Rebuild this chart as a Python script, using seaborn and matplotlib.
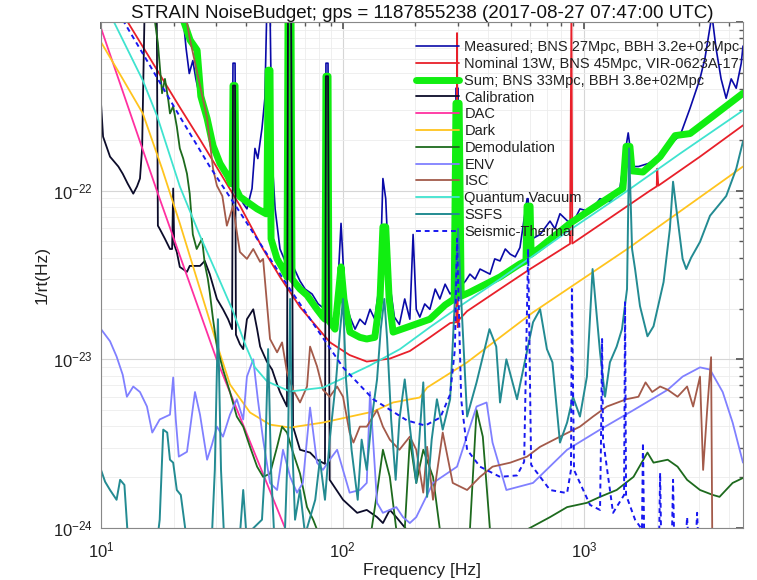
import matplotlib
matplotlib.use("Agg")
import matplotlib.pyplot as plt
import seaborn as sns
from matplotlib.ticker import LogLocator, NullFormatter, FixedLocator, FixedFormatter

sns.set_theme(style="white")
plt.rcParams['font.family'] = ['Liberation Sans', 'DejaVu Sans']
plt.rcParams['mathtext.fontset'] = 'custom'
plt.rcParams['mathtext.rm'] = 'Liberation Sans'
plt.rcParams['mathtext.it'] = 'Liberation Sans:italic'
plt.rcParams['mathtext.bf'] = 'Liberation Sans:bold'

title = "STRAIN NoiseBudget; gps = 1187855238 (2017-08-27 07:47:00 UTC)"
labels = ["Measured; BNS 27Mpc, BBH 3.2e+02Mpc", "Nominal 13W, BNS 45Mpc, VIR-0623A-17",
          "Sum; BNS 33Mpc, BBH 3.8e+02Mpc", "Calibration", "DAC", "Dark", "Demodulation",
          "ENV", "ISC", "Quantum Vacuum", "SSFS", "Seismic-Thermal"]

meas_f = [21.9, 22.5, 23.2, 24.0, 24.7, 25.7, 27.5, 29.1, 31.1, 33.6, 34.9, 35.2, 35.9, 36.2, 38.8, 40.2, 42.2, 43.4, 44.6, 46.4, 47.7, 48.6, 50.1, 51.1, 52.6, 55.1, 57.8, 59.5, 61.2, 61.8, 66.7, 70.0, 74.8, 79.3, 84.6, 85.4, 87.1, 87.9, 91.4, 95.0, 98.6, 102.5, 107.4, 112.7, 118, 124, 130, 136, 143, 147, 151, 156, 164, 172, 181, 190, 196, 202, 209, 219, 230, 242, 253, 266, 279, 292, 295, 301, 304, 314, 323, 337, 354, 371, 408, 427, 449, 472, 495, 519, 543, 581, 587, 598, 610, 658, 723, 758, 795, 875, 917, 962, 1059, 1164, 1280, 1407, 1493, 1524, 1549, 1581, 1680, 1848, 2066, 2383, 2499, 2748, 3020, 3168, 3386, 3520, 3695, 3877, 4068, 4267, 4478, 4553]
meas_v = [1.05e-21, 7.0e-22, 4.95e-22, 5.9e-22, 4.6e-22, 3.53e-22, 2.5e-22, 1.78e-22, 1.39e-22, 1.15e-22, 1.06e-22, 5.7e-22, 5.7e-22, 1.03e-22, 8.4e-23, 7.8e-23, 1.03e-22, 1.78e-22, 1.55e-22, 2.34e-22, 3.53e-22, 1.2e-21, 1.2e-21, 1.55e-22, 7.8e-23, 4.51e-23, 3.83e-23, 1.2e-21, 1.2e-21, 3.68e-23, 2.91e-23, 2.61e-23, 2.44e-23, 2.13e-23, 1.98e-23, 5.7e-22, 5.7e-22, 1.85e-23, 1.69e-23, 2.28e-23, 6.4e-23, 2.28e-23, 1.78e-23, 1.51e-23, 1.73e-23, 1.61e-23, 1.98e-23, 1.73e-23, 2.99e-23, 1.18e-22, 8.96e-23, 2.99e-23, 1.78e-23, 1.61e-23, 2.28e-23, 1.73e-23, 5.5e-23, 1.98e-23, 1.78e-23, 2.13e-23, 1.98e-23, 2.61e-23, 2.28e-23, 2.79e-23, 2.44e-23, 2.61e-23, 4.05e-22, 4.05e-22, 2.99e-23, 2.79e-23, 2.91e-23, 3.2e-23, 2.99e-23, 3.43e-23, 3.2e-23, 3.94e-23, 3.83e-23, 4.51e-23, 4.2e-23, 4.05e-23, 4.6e-23, 8.96e-23, 8.96e-23, 5.3e-23, 5.18e-23, 5.5e-23, 6.6e-23, 5.94e-23, 7.3e-23, 6.4e-23, 6.8e-23, 7.8e-23, 7.5e-23, 8.96e-23, 8.6e-23, 1.03e-22, 1.83e-22, 2.2e-22, 1.83e-22, 1.39e-22, 1.39e-22, 1.45e-22, 1.6e-22, 2.0e-22, 2.12e-22, 3.08e-22, 4.6e-22, 6.1e-22, 1.1e-21, 7.0e-22, 4.6e-22, 3.53e-22, 4.6e-22, 4.05e-22, 5.7e-22, 7.2e-22]

nom_f = [12.9, 17.5, 21.2, 25.7, 31.1, 37.7, 46.9, 55.1, 66.7, 88.8, 107, 126, 157, 190, 230, 279, 296, 298, 300, 304, 328, 449, 598, 875, 887, 894, 1164, 1876, 2000, 2010, 2030, 3020, 4553]
nom_v = [1.0e-21, 4.9e-22, 3.12e-22, 2.01e-22, 1.28e-22, 8.1e-23, 4.5e-23, 3.08e-23, 2.04e-23, 1.26e-23, 1.06e-23, 9.7e-24, 1.01e-23, 1.12e-23, 1.35e-23, 1.64e-23, 1.66e-23, 8.6e-22, 1.55e-23, 1.72e-23, 1.93e-23, 2.61e-23, 3.43e-23, 4.84e-23, 1.2e-21, 4.86e-23, 6.28e-23, 1.0e-22, 1.06e-22, 1.35e-22, 1.07e-22, 1.59e-22, 2.44e-22]

sum_f = [21.9, 23.4, 25.0, 25.9, 27.5, 29.1, 31.1, 33.6, 34.5, 34.9, 35.2, 35.9, 36.2, 37.6, 40.2, 44.3, 48.2, 48.6, 49.2, 50.1, 50.6, 53.6, 56.7, 58.9, 59.5, 61.2, 61.8, 66.7, 71.3, 78.4, 83.0, 84.6, 85.4, 87.1, 87.9, 93.1, 95.7, 98.6, 101.4, 107.4, 118, 126, 136, 143, 147, 151, 156, 162, 190, 230, 266, 290, 295, 304, 310, 337, 449, 543, 575, 581, 598, 604, 658, 875, 1164, 1449, 1493, 1549, 1581, 1754, 2066, 2383, 2748, 3324, 4553]
sum_v = [1.03e-21, 7.8e-22, 6.8e-22, 3.63e-22, 2.68e-22, 1.85e-22, 1.45e-22, 1.21e-22, 1.10e-22, 1.10e-22, 4.2e-22, 4.2e-22, 1.03e-22, 9.2e-23, 8.6e-23, 7.8e-23, 7.3e-23, 7.3e-23, 5.18e-22, 5.18e-22, 5.18e-23, 3.94e-23, 3.43e-23, 3.08e-23, 1.2e-21, 1.2e-21, 2.99e-23, 2.61e-23, 2.4e-23, 1.98e-23, 1.78e-23, 1.73e-23, 4.77e-22, 4.77e-22, 1.69e-23, 1.51e-23, 2.28e-23, 3.53e-23, 2.28e-23, 1.45e-23, 1.35e-23, 1.32e-23, 1.35e-23, 2.28e-23, 6.1e-23, 6.1e-23, 2.28e-23, 1.45e-23, 1.57e-23, 1.73e-23, 2.10e-23, 2.28e-23, 3.30e-22, 3.30e-22, 2.37e-23, 2.5e-23, 3.08e-23, 3.68e-23, 3.83e-23, 8.1e-23, 8.1e-23, 4.2e-23, 4.6e-23, 6.4e-23, 8.4e-23, 1.03e-22, 1.83e-22, 1.83e-22, 1.31e-22, 1.29e-22, 1.59e-22, 2.12e-22, 2.18e-22, 2.68e-22, 3.78e-22]

cal_f = [10.0, 10.2, 10.9, 11.8, 12.3, 12.9, 13.6, 14.1, 14.5, 14.8, 15.0, 15.2, 17.0, 17.2, 17.5, 18.4, 19.3, 19.7, 19.9, 20.1, 20.6, 21.2, 22.7, 23.3, 25.7, 26.9, 28.2, 30.2, 32.0, 33.6, 34.9, 35.2, 35.9, 36.2, 37.6, 38.8, 40.2, 42.7, 44.3, 45.6, 48.6, 51.1, 53.6, 55.1, 58.9, 59.5, 61.2, 62.4, 66.7, 73.4, 78.4, 84.6, 85.4, 87.1, 88.5, 100.5, 115, 126, 139, 147, 157, 167, 184, 209]
cal_v = [3.30e-22, 2.09e-22, 1.59e-22, 1.39e-22, 1.26e-22, 1.10e-22, 9.6e-23, 1.06e-22, 1.18e-22, 1.78e-22, 5.3e-22, 1.5e-21, 1.5e-21, 6.2e-23, 5.94e-23, 5.18e-23, 4.51e-23, 4.51e-23, 1.03e-22, 4.8e-23, 4.33e-23, 3.53e-23, 3.30e-23, 3.58e-23, 3.58e-23, 3.83e-23, 3.2e-23, 2.28e-23, 1.98e-23, 1.73e-23, 1.51e-23, 4.2e-22, 4.2e-22, 1.4e-23, 1.23e-23, 1.15e-23, 1.73e-23, 1.98e-23, 1.51e-23, 1.19e-23, 9.7e-24, 8.7e-24, 7.1e-24, 6.4e-24, 5.25e-24, 1.5e-21, 1.5e-21, 3.99e-24, 2.91e-24, 2.8e-24, 2.54e-24, 2.4e-24, 4.77e-22, 4.77e-22, 1.93e-24, 1.47e-24, 1.23e-24, 1.28e-24, 1.16e-24, 1.07e-24, 1.28e-24, 1.16e-24, 9.8e-25, 7.9e-25]

dac_f = [10, 17.2, 30.1, 57.8, 70]
dac_v = [9.2e-22, 9.6e-23, 1.0e-23, 1.0e-24, 4.8e-25]

dark_f = [10, 12.3, 14.9, 17.9, 21.2, 25.7, 30.2, 34.2, 41.4, 50.1, 60.7, 83, 134, 162, 209, 224, 328, 615, 1507, 4553]
dark_v = [7.6e-22, 4.6e-22, 2.87e-22, 1.35e-22, 6.4e-23, 2.61e-23, 1.23e-23, 7.1e-24, 4.84e-24, 4.1e-24, 3.94e-24, 4.22e-24, 4.9e-24, 5.55e-24, 5.94e-24, 6.8e-24, 9.6e-24, 1.9e-23, 4.5e-23, 1.39e-22]

dem_f = [16.1, 17.2, 17.9, 18.4, 19.0, 19.3, 19.9, 20.6, 21.2, 21.9, 22.7, 23.3, 24.0, 24.9, 26.2, 26.9, 27.7, 28.2, 29.1, 30.2, 32.0, 34.2, 36.5, 38.8, 41.4, 44.3, 46.9, 50.1, 53.6, 56.2, 58.9, 62.4, 66.7, 71.3, 75.6, 78.4, 88.5, 130, 139, 147, 157, 167, 181, 190, 202, 216, 237, 253, 337, 359, 381, 408, 581, 723, 851, 1028, 1165, 1365, 1603, 1831, 1940, 2221, 2440, 2672, 3022, 3417, 3640, 4124, 4553]
dem_v = [1.5e-21, 7.5e-22, 3.78e-22, 4.6e-22, 3.43e-22, 2.87e-22, 3.16e-22, 2.4e-22, 1.78e-22, 1.55e-22, 1.26e-22, 9.6e-23, 5.5e-23, 4.51e-23, 5.18e-23, 3.68e-23, 2.99e-23, 2.5e-23, 1.73e-23, 1.19e-23, 8.7e-24, 6.4e-24, 4.58e-24, 3.99e-24, 3.03e-24, 2.31e-24, 2.01e-24, 2.1e-24, 3.03e-24, 3.99e-24, 3.68e-24, 2.8e-24, 2.1e-24, 1.33e-24, 1.12e-24, 9.8e-25, 7.9e-25, 8.5e-25, 1.62e-24, 2.91e-24, 2.01e-24, 9.8e-25, 9.8e-25, 3.34e-24, 1.85e-24, 2.91e-24, 2.01e-24, 9.8e-25, 9.8e-25, 5.0e-24, 3.48e-24, 9.8e-25, 9.8e-25, 1.16e-24, 1.33e-24, 1.41e-24, 1.53e-24, 1.68e-24, 2.01e-24, 2.8e-24, 2.44e-24, 2.54e-24, 2.31e-24, 1.93e-24, 1.68e-24, 1.57e-24, 1.53e-24, 1.85e-24, 1.98e-24]

env_f = [10.0, 10.9, 11.6, 12.3, 12.8, 13.6, 14.5, 15.5, 16.3, 17.5, 19.3, 19.9, 20.4, 21.0, 22.7, 24.5, 25.7, 27.5, 28.8, 30.2, 32.0, 34.2, 36.5, 38.8, 40.2, 42.7, 44.6, 46.9, 50.1, 53.6, 56.7, 60.7, 64.8, 68.5, 73.4, 78.4, 83.0, 88.5, 95.0, 107, 118, 126, 130, 139, 147, 167, 178, 190, 202, 237, 298, 359, 395, 418, 477, 615, 851, 1165, 1603, 2221, 2560, 3022, 3324, 3752, 4124, 4553]
env_v = [1.51e-23, 1.28e-23, 1.04e-23, 8.1e-24, 6.0e-24, 6.9e-24, 6.4e-24, 5.25e-24, 3.68e-24, 4.4e-24, 4.7e-24, 7.8e-24, 4.4e-24, 2.65e-24, 2.83e-24, 6.4e-24, 4.7e-24, 2.54e-24, 3.12e-24, 3.99e-24, 3.48e-24, 4.7e-24, 5.8e-24, 4.4e-24, 7.9e-24, 1.0e-23, 5.8e-24, 3.34e-24, 1.85e-24, 1.68e-24, 2.91e-24, 2.01e-24, 1.62e-24, 1.85e-24, 5.18e-24, 2.44e-24, 2.21e-24, 2.54e-24, 2.91e-24, 1.62e-24, 1.68e-24, 1.85e-24, 6.4e-24, 1.41e-24, 1.23e-24, 1.33e-24, 1.16e-24, 1.07e-24, 1.16e-24, 1.85e-24, 2.31e-24, 5.25e-24, 5.55e-24, 3.21e-24, 1.68e-24, 1.85e-24, 2.91e-24, 3.83e-24, 5.0e-24, 6.6e-24, 7.9e-24, 8.96e-24, 8.7e-24, 6.4e-24, 4.22e-24, 2.44e-24]

isc_f = [22.7, 23.3, 25.7, 27.5, 29.1, 30.2, 31.8, 33.2, 35.2, 36.5, 37.6, 40.2, 42.7, 45.6, 46.9, 50.1, 53.6, 56.2, 58.9, 62.4, 66.7, 71.3, 73.4, 78.4, 83.0, 88.5, 95.0, 100.5, 107, 111, 118, 126, 139, 147, 157, 172, 190, 202, 216, 224, 237, 260, 286, 328, 371, 418, 495, 581, 658, 795, 962, 1090, 1244, 1497, 1680, 1798, 1915, 2066, 2221, 2440, 2672, 2830, 3022, 3113, 3235, 3359, 3397, 3640]
isc_v = [9.9e-22, 8.0e-22, 4.2e-22, 2.68e-22, 1.35e-22, 1.07e-22, 9.3e-23, 6.2e-23, 8.1e-23, 5.7e-23, 4.33e-23, 3.94e-23, 4.51e-23, 3.78e-23, 3.94e-23, 1.32e-23, 1.10e-23, 1.26e-23, 8.4e-24, 6.6e-24, 5.55e-24, 6.9e-24, 1.19e-23, 9.1e-24, 6.6e-24, 6.0e-24, 6.9e-24, 6.0e-24, 3.68e-24, 3.21e-24, 3.99e-24, 3.99e-24, 5.0e-24, 3.99e-24, 3.34e-24, 2.91e-24, 3.48e-24, 2.91e-24, 1.62e-24, 3.03e-24, 1.47e-24, 3.68e-24, 1.85e-24, 1.68e-24, 2.01e-24, 2.31e-24, 2.44e-24, 2.65e-24, 3.03e-24, 3.48e-24, 3.99e-24, 4.58e-24, 5.25e-24, 5.8e-24, 6.0e-24, 7.3e-24, 6.4e-24, 6.9e-24, 6.6e-24, 6.0e-24, 6.9e-24, 5.25e-24, 7.9e-24, 2.21e-24, 5.0e-24, 1.03e-23, 8.5e-25, 7.9e-25]

qv_f = [11.2, 14.9, 17.1, 21.2, 25.7, 30.2, 35.2, 39.5, 43.4, 48.7, 60.6, 83, 102, 130, 173, 230, 307, 449, 598, 875, 1409, 2500, 4553]
qv_v = [1.03e-21, 4.5e-22, 2.75e-22, 1.06e-22, 5.4e-23, 3.2e-23, 1.93e-23, 1.23e-23, 8.96e-24, 7.4e-24, 6.45e-24, 6.8e-24, 7.8e-24, 9.2e-24, 1.15e-23, 1.55e-23, 2.07e-23, 2.99e-23, 3.99e-23, 5.86e-23, 9.3e-23, 1.66e-22, 2.99e-22]

ss_f = [10.0, 10.4, 10.9, 11.6, 12.0, 12.5, 12.9, 17.2, 17.5, 18.1, 18.8, 19.3, 19.9, 20.6, 21.4, 22.5, 28.8, 29.6, 30.5, 31.4, 32.3, 37.6, 38.8, 40.0, 46.4, 47.7, 49.2, 50.6, 52.0, 57.8, 59.5, 60.7, 61.8, 63.6, 66.7, 70.0, 77.1, 80.6, 84.6, 88.5, 94.1, 97.8, 100.5, 103.4, 109, 115.6, 120, 126, 132, 139, 144, 149, 153, 159, 166, 172, 181, 190, 202, 216, 224, 234, 246, 260, 279, 292, 301, 310, 328, 359, 406, 433, 449, 477, 528, 615, 658, 702, 740, 795, 851, 900, 962, 1028, 1085, 1165, 1222, 1280, 1365, 1436, 1507, 1537, 1581, 1627, 1705, 1831, 1940, 2135, 2267, 2337, 2420, 2560, 2650, 2775, 3022, 3324, 3880, 4270, 4553]
ss_v = [2.21e-24, 1.88e-24, 1.68e-24, 1.47e-24, 1.93e-24, 1.8e-24, 9.1e-25, 9.1e-25, 1.12e-24, 3.83e-24, 3.68e-24, 2.54e-24, 2.44e-24, 1.68e-24, 1.57e-24, 9.1e-25, 9.1e-25, 2.21e-24, 1.73e-23, 2.21e-24, 9.1e-25, 9.1e-25, 1.68e-24, 9.1e-25, 1.12e-24, 2.21e-24, 1.15e-23, 2.21e-24, 9.8e-25, 9.8e-25, 3.34e-24, 2.28e-23, 3.34e-24, 1.12e-24, 1.68e-24, 9.1e-25, 1.47e-24, 2.54e-24, 1.47e-24, 3.34e-24, 7.6e-24, 1.51e-23, 2.28e-23, 7.6e-24, 2.91e-24, 1.47e-24, 3.34e-24, 2.21e-24, 4.4e-24, 7.6e-24, 1.51e-23, 2.28e-23, 1.32e-23, 4.4e-24, 1.93e-24, 4.4e-24, 7.6e-24, 3.99e-24, 1.85e-24, 7.3e-24, 1.53e-24, 3.34e-24, 5.8e-24, 3.83e-24, 5.8e-24, 2.28e-23, 5.94e-23, 2.28e-23, 4.58e-24, 7.3e-24, 1.51e-23, 1.19e-23, 5.55e-24, 1.0e-23, 5.8e-24, 1.66e-23, 1.98e-23, 1.15e-23, 9.6e-24, 3.21e-24, 4.22e-24, 6.0e-24, 4.58e-24, 7.9e-24, 3.43e-23, 1.1e-23, 6.0e-24, 9.6e-24, 1.19e-23, 1.51e-23, 2.61e-23, 1.78e-22, 4.51e-23, 3.43e-23, 2.07e-23, 1.37e-23, 1.57e-23, 2.87e-23, 5.94e-23, 1.13e-22, 7.5e-23, 3.94e-23, 3.43e-23, 4.0e-23, 4.97e-23, 7.1e-23, 9.3e-23, 1.35e-22, 1.96e-22]

st_f = [12.3, 16.0, 21.2, 28.2, 37.7, 48.7, 60.6, 78.4, 100.5, 134, 185, 220, 254, 279, 292, 298, 310, 328, 371, 449, 528, 565, 587, 604, 723, 851, 883, 891, 909, 1059, 1165, 1176, 1188, 1199, 1319, 1465, 1479, 1493, 1627, 1738, 1754, 1773, 2047, 2066, 2085, 2313, 2337, 2360, 2645, 2672, 2698, 2912, 2939, 2966, 4553]
st_v = [1.03e-21, 5.47e-22, 2.75e-22, 1.39e-22, 7.4e-23, 4.2e-23, 2.61e-23, 1.51e-23, 8.96e-24, 5.8e-24, 4.34e-24, 4.05e-24, 4.52e-24, 6.19e-24, 1.15e-23, 5.18e-23, 5.8e-24, 2.91e-24, 2.31e-24, 2.01e-24, 2.05e-24, 2.47e-24, 4.51e-23, 2.37e-24, 1.68e-24, 1.61e-24, 2.21e-24, 2.61e-23, 2.21e-24, 1.37e-24, 1.28e-24, 3.34e-24, 1.32e-23, 3.34e-24, 1.23e-24, 1.57e-24, 2.18e-23, 1.57e-24, 1.12e-24, 9.8e-25, 3.2e-24, 9.8e-25, 9.1e-25, 2.12e-24, 9.1e-25, 9.1e-25, 1.93e-24, 9.1e-25, 9.1e-25, 1.16e-24, 9.1e-25, 9.1e-25, 1.23e-24, 9.1e-25, 6.5e-25]

series = [
    (meas_f, meas_v, '#0a0aa8', 1.2, '-'),
    (nom_f, nom_v, '#e8202a', 1.3, '-'),
    (sum_f, sum_v, '#11ee11', 5.0, '-'),
    (cal_f, cal_v, '#0c0c2a', 1.3, '-'),
    (dac_f, dac_v, '#ff30a0', 1.3, '-'),
    (dark_f, dark_v, '#ffc41e', 1.3, '-'),
    (dem_f, dem_v, '#1d6a1d', 1.3, '-'),
    (env_f, env_v, '#8080ff', 1.3, '-'),
    (isc_f, isc_v, '#a35a4a', 1.3, '-'),
    (qv_f, qv_v, '#3fe3cf', 1.3, '-'),
    (ss_f, ss_v, '#238b92', 1.4, '-'),
    (st_f, st_v, '#1818f0', 1.4, (0, (2.5, 2))),
]

fig = plt.figure(figsize=(7.57, 5.80), dpi=100)
ax = fig.add_axes([101/757, 52/580, 642/757, 506/580])
ax.set_xscale('log')
ax.set_yscale('log')

for (f, v, c, lw, ls), lab in zip(series, labels):
    sns.lineplot(x=f, y=v, ax=ax, color=c, linewidth=lw, linestyle=ls,
                 estimator=None, sort=False, label=lab)

ax.set_xlim(10, 4553)
ax.set_ylim(1e-24, 1e-21)

ax.xaxis.set_major_locator(FixedLocator([10, 100, 1000]))
ax.xaxis.set_major_formatter(FixedFormatter([r'$10^{1}$', r'$10^{2}$', r'$10^{3}$']))
ax.xaxis.set_minor_locator(LogLocator(base=10, subs=range(2, 10), numticks=20))
ax.xaxis.set_minor_formatter(NullFormatter())
ax.yaxis.set_major_locator(FixedLocator([1e-24, 1e-23, 1e-22, 1e-21]))
ax.yaxis.set_major_formatter(FixedFormatter([r'$10^{-24}$', r'$10^{-23}$', r'$10^{-22}$', '']))
ax.yaxis.set_minor_locator(LogLocator(base=10, subs=range(2, 10), numticks=20))
ax.yaxis.set_minor_formatter(NullFormatter())

ax.grid(True, which='major', color='#d6d6d6', linewidth=0.8)
ax.grid(True, which='minor', color='#ececec', linewidth=0.6)
ax.set_axisbelow(True)
ax.tick_params(which='both', direction='in', top=True, right=True, colors='#555555',
               labelcolor='#222222', labelsize=12)
ax.tick_params(axis='x', which='major', pad=9)
ax.tick_params(axis='y', which='major', pad=6)
ax.tick_params(which='major', length=5)
ax.tick_params(which='minor', length=3)
for s in ax.spines.values():
    s.set_color('#888888')
    s.set_linewidth(0.8)

ax.set_title(title, fontsize=13.5, color='#111111', pad=3)
ax.set_xlabel("Frequency [Hz]", fontsize=12.5, color='#222222', labelpad=2)
ax.set_ylabel("1/rt(Hz)", fontsize=12.5, color='#222222', labelpad=2)

leg = ax.legend(loc='upper left', bbox_to_anchor=(0.490, 0.964), frameon=False,
                fontsize=10.5, labelspacing=0.19, handlelength=3.0, handletextpad=0.35,
                borderpad=0, borderaxespad=0)
for t in leg.get_texts():
    t.set_color('#222222')

fig.savefig("out.png", dpi=100)
